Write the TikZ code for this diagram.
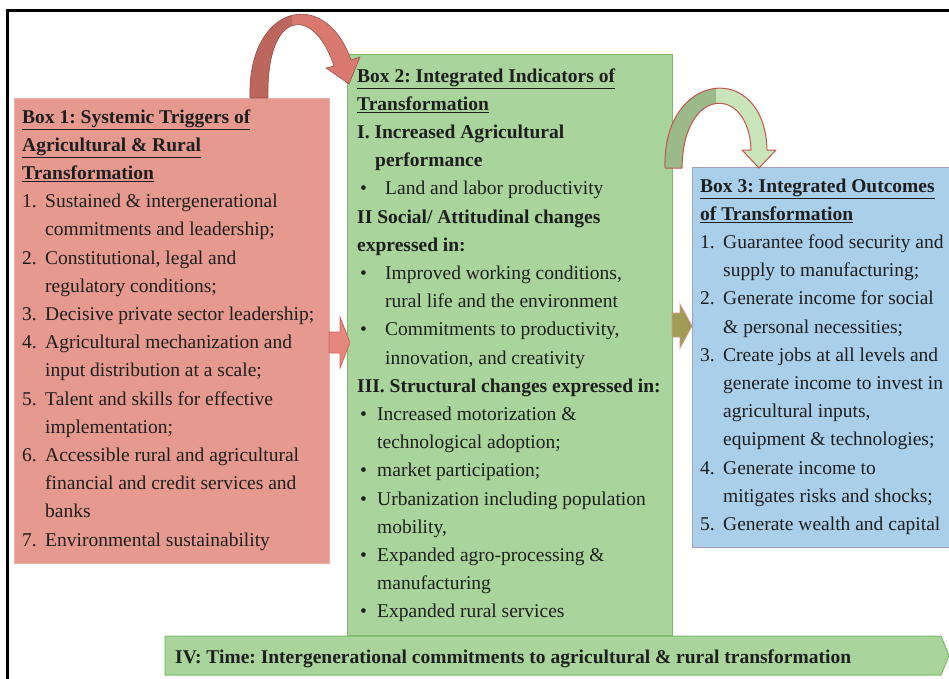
\documentclass[tikz,border=0pt]{standalone}
\usepackage{fontspec}
\setmainfont{Liberation Serif}
\usepackage{array}
\frenchspacing
\definecolor{txtcol}{HTML}{1E1E1E}
\definecolor{redfill}{HTML}{E6998F}
\definecolor{redline}{HTML}{EDB0A9}
\definecolor{greenfill}{HTML}{A9D49B}
\definecolor{greenline}{HTML}{7DB868}
\definecolor{bluefill}{HTML}{AACFEA}
\definecolor{blueline}{HTML}{A89CB8}
\definecolor{arcredA}{HTML}{D9786E}
\definecolor{arcredB}{HTML}{BC665E}
\definecolor{arcgreenA}{HTML}{C9E4B8}
\definecolor{arcgreenB}{HTML}{9CB98A}
\definecolor{arcline}{HTML}{C0574E}
\definecolor{blockred}{HTML}{E5877D}
\definecolor{blockredline}{HTML}{C96A60}
\definecolor{olive}{HTML}{A19C55}
\newcommand\bul[1]{\makebox[#1][l]{\hspace{3pt}\textbullet}}
\newcommand\hd[1]{\multicolumn{2}{@{}l@{}}{\bfseries\underline{#1}}}
\newcommand\arcone{(250,98) .. controls (247,5) and (325,-15) .. (351,60) -- (360,57) -- (349,84) -- (326,68) -- (334,66) .. controls (314,5) and (266,8) .. (268,98) -- cycle}
\newcommand\arctwo{(665,168) .. controls (662,70) and (765,60) .. (767,150) -- (776,150) -- (759,168) -- (742,150) -- (751,150) .. controls (749,85) and (683,85) .. (682,168) -- cycle}
\begin{document}
\begin{tikzpicture}[x=1pt,y=-1pt,
  txt/.style={inner sep=0pt, anchor=base west, text=txtcol, font=\fontsize{19.5}{28.2}\selectfont},
  boxone/.style={draw=redline, fill=redfill, line width=1pt, anchor=north west, inner sep=0pt},
  boxtwo/.style={draw=greenline, fill=greenfill, line width=1pt, anchor=north west, inner sep=0pt},
  boxthree/.style={draw=blueline, fill=bluefill, line width=1pt, anchor=north west, inner sep=0pt}]
\useasboundingbox (0,0) rectangle (949,678);
% frame
\draw[line width=3pt, black] (7.5,680) -- (7.5,10.5) -- (952,10.5);
% boxes
\node[boxone, minimum width=315pt, minimum height=465pt] (b1) at (14,98) {};
\node[boxtwo, minimum width=325pt, minimum height=581pt] (b2) at (347,54) {};
\node[boxthree, minimum width=265pt, minimum height=380pt] (b3) at (692,167) {};
% time bar
\fill[greenfill, draw=greenline, line width=1pt] (165,636) -- (941,636) -- (949,655.5) -- (941,675) -- (165,675) -- cycle;
\node[txt, font=\fontsize{19.5}{28.2}\selectfont\bfseries] (tb) at (175,663) {IV: Time: Intergenerational commitments to agricultural \& rural transformation};
% block arrows
\fill[blockred, draw=blockredline, line width=0.8pt] (329,332) -- (340,332) -- (340,317) -- (350,342.5) -- (340,368) -- (340,353) -- (329,353) -- cycle;
\fill[olive, draw=blockredline!70, line width=0.8pt] (672,313) -- (680,313) -- (680,304) -- (692,326) -- (680,348) -- (680,337) -- (672,337) -- cycle;
% curved arrow 1
\fill[arcredA] \arcone;
\begin{scope}
\clip (0,0) rectangle (292,100);
\fill[arcredB] \arcone;
\end{scope}
\draw[arcredB!80!black, line width=0.6pt, line join=round] \arcone;
% curved arrow 2
\fill[arcgreenA] \arctwo;
\begin{scope}
\clip (600,0) rectangle (716,170);
\fill[arcgreenB] \arctwo;
\end{scope}
\draw[arcline, line width=1pt, line join=round] \arctwo;
% texts
\node[txt] (t1) at (22,123) {\begin{tabular}[t]{@{}p{23pt}@{}l@{}}
\hd{Box 1: Systemic Triggers of}\\
\hd{Agricultural \& Rural}\\
\hd{Transformation}\\
1. & Sustained \& intergenerational\\
 & commitments and leadership;\\
2. & Constitutional, legal and\\
 & regulatory conditions;\\
3. & Decisive private sector leadership;\\
4. & Agricultural mechanization and\\
 & input distribution at a scale;\\
5. & Talent and skills for effective\\
 & implementation;\\
6. & Accessible rural and agricultural\\
 & financial and credit services and\\
 & banks\\
7. & Environmental sustainability
\end{tabular}};
\node[txt] (t2) at (357,82) {\begin{tabular}[t]{@{}l@{}}
\bfseries\underline{Box 2: Integrated Indicators of}\\
\bfseries\underline{Transformation}\\
\bfseries I. Increased Agricultural\\
\bfseries\hspace*{18pt}performance\\
\bul{28pt}Land and labor productivity\\
\bfseries II Social/ Attitudinal changes\\
\bfseries expressed in:\\
\bul{28pt}Improved working conditions,\\
\hspace*{28pt}rural life and the environment\\
\bul{28pt}Commitments to productivity,\\
\hspace*{28pt}innovation, and creativity\\
\bfseries III.\ Structural changes expressed in:\\
\bul{20pt}Increased motorization \&\\
\hspace*{20pt}technological adoption;\\
\bul{20pt}market participation;\\
\bul{20pt}Urbanization including population\\
\hspace*{20pt}mobility,\\
\bul{20pt}Expanded agro-processing \&\\
\hspace*{20pt}manufacturing\\
\bul{20pt}Expanded rural services
\end{tabular}};
\node[txt] (t3) at (700,192) {\begin{tabular}[t]{@{}p{23pt}@{}l@{}}
\hd{Box 3: Integrated Outcomes}\\
\hd{of Transformation}\\
1. & Guarantee food security and\\
 & supply to manufacturing;\\
2. & Generate income for social\\
 & \& personal necessities;\\
3. & Create jobs at all levels and\\
 & generate income to invest in\\
 & agricultural inputs,\\
 & equipment \& technologies;\\
4. & Generate income to\\
 & mitigates risks and shocks;\\
5. & Generate wealth and capital
\end{tabular}};
\end{tikzpicture}
\end{document}
